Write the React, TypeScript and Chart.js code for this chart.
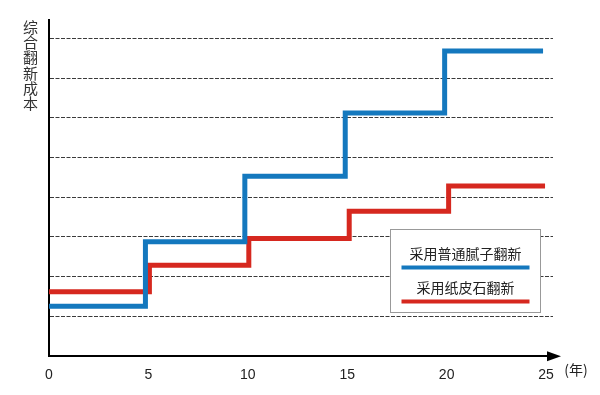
import React, { useEffect, useRef } from "react";
import { Chart, registerables } from "chart.js";

Chart.register(...registerables);

const xTickValues = [0, 5, 10, 15, 20, 25];
const yGridValues = [1, 2, 3, 4, 5, 6, 7, 8];

const putty = "采用普通腻子翻新";
const mosaic = "采用纸皮石翻新";
const yTitle = "综合翻新成本";
const xUnit = "(年)";

// step points: [year, cost]
const puttyYears = [0, 4.85, 9.85, 14.9, 19.9, 24.85];
const puttyCost = [1.26, 2.88, 4.53, 6.12, 7.68, 7.68];
const mosaicYears = [0, 5.05, 10.05, 15.1, 20.1, 24.95];
const mosaicCost = [1.62, 2.29, 2.96, 3.65, 4.28, 4.28];

const BLUE = "#1478be";
const RED = "#d6281f";

const decorPlugin = {
  id: "decor",
  afterDraw(chart: any) {
    const ctx = chart.ctx as CanvasRenderingContext2D;
    const area = chart.chartArea;
    const xs = chart.scales.x;
    const ys = chart.scales.y;
    const axisY = ys.getPixelForValue(0);
    ctx.save();
    // arrow
    ctx.fillStyle = "#000";
    ctx.beginPath();
    ctx.moveTo(area.right - 6, axisY - 5);
    ctx.lineTo(area.right + 8, axisY);
    ctx.lineTo(area.right - 6, axisY + 5);
    ctx.closePath();
    ctx.fill();
    ctx.strokeStyle = "#000";
    ctx.lineWidth = 2;
    ctx.beginPath();
    ctx.moveTo(area.right - 2, axisY);
    ctx.lineTo(area.right + 2, axisY);
    ctx.stroke();

    // y title, vertical
    ctx.fillStyle = "#333";
    ctx.font = '15px "Noto Sans CJK SC"';
    ctx.textAlign = "center";
    ctx.textBaseline = "middle";
    const chars = Array.from(yTitle);
    chars.forEach((c, i) => {
      ctx.fillText(c, area.left - 18.5, area.top + 7 + i * 15.3);
    });

    // x unit
    ctx.fillStyle = "#222";
    ctx.font = '14px "Noto Sans CJK SC"';
    ctx.fillText(xUnit, xs.getPixelForValue(25) + 30, axisY + 13);

    // legend box
    const bx = 390.5, by = 229.5, bw = 150, bh = 83;
    ctx.fillStyle = "#fff";
    ctx.fillRect(bx, by, bw, bh);
    ctx.strokeStyle = "#999";
    ctx.lineWidth = 1;
    ctx.strokeRect(bx, by, bw, bh);
    ctx.fillStyle = "#222";
    ctx.font = '14px "Noto Sans CJK SC"';
    ctx.fillText(putty, bx + bw / 2, by + 24);
    ctx.fillText(mosaic, bx + bw / 2, by + 58);
    ctx.lineWidth = 4;
    ctx.strokeStyle = BLUE;
    ctx.beginPath();
    ctx.moveTo(bx + 11, by + 38);
    ctx.lineTo(bx + 139, by + 38);
    ctx.stroke();
    ctx.strokeStyle = RED;
    ctx.beginPath();
    ctx.moveTo(bx + 11, by + 72);
    ctx.lineTo(bx + 139, by + 72);
    ctx.stroke();
    ctx.restore();
  },
};

export default function App() {
  const ref = useRef<HTMLCanvasElement | null>(null);
  useEffect(() => {
    if (!ref.current) return;
    const chart = new Chart(ref.current, {
      type: "line",
      data: {
        datasets: [
          {
            label: putty,
            data: puttyYears.map((x, i) => ({ x, y: puttyCost[i] })),
            borderColor: BLUE,
            borderWidth: 5,
            stepped: "before",
            pointRadius: 0,
            fill: false,
          },
          {
            label: mosaic,
            data: mosaicYears.map((x, i) => ({ x, y: mosaicCost[i] })),
            borderColor: RED,
            borderWidth: 5,
            stepped: "before",
            pointRadius: 0,
            fill: false,
          },
        ],
      },
      options: {
        animation: false,
        responsive: false,
        events: [],
        layout: { padding: { left: 49, right: 47, top: 20, bottom: 0 } },
        plugins: { legend: { display: false }, tooltip: { enabled: false } },
        scales: {
          x: {
            type: "linear",
            min: 0,
            max: 25.35,
            afterBuildTicks: (s: any) => {
              s.ticks = xTickValues.map((v) => ({ value: v }));
            },
            grid: { display: false, drawTicks: false },
            border: { display: true, color: "#000", width: 2 },
            ticks: {
              color: "#222",
              padding: 11,
              maxRotation: 0,
              autoSkip: false,
              font: { family: '"Liberation Sans", Arial, sans-serif', size: 14 },
            },
          },
          y: {
            type: "linear",
            min: 0,
            max: 8.46,
            afterBuildTicks: (s: any) => {
              s.ticks = yGridValues.map((v) => ({ value: v }));
            },
            grid: { display: true, drawTicks: false, color: "#3a3a3a", lineWidth: 1 },
            border: { display: true, color: "#000", width: 2, dash: [4, 1.5] },
            ticks: { display: false },
          },
        },
      },
      plugins: [decorPlugin],
    });
    return () => chart.destroy();
  }, []);
  return (
    <div style={{ position: "absolute", left: 0, top: 0, width: 600, height: 395, background: "#fff" }}>
      <canvas ref={ref} width={600} height={395} style={{ width: 600, height: 395 }} />
    </div>
  );
}
